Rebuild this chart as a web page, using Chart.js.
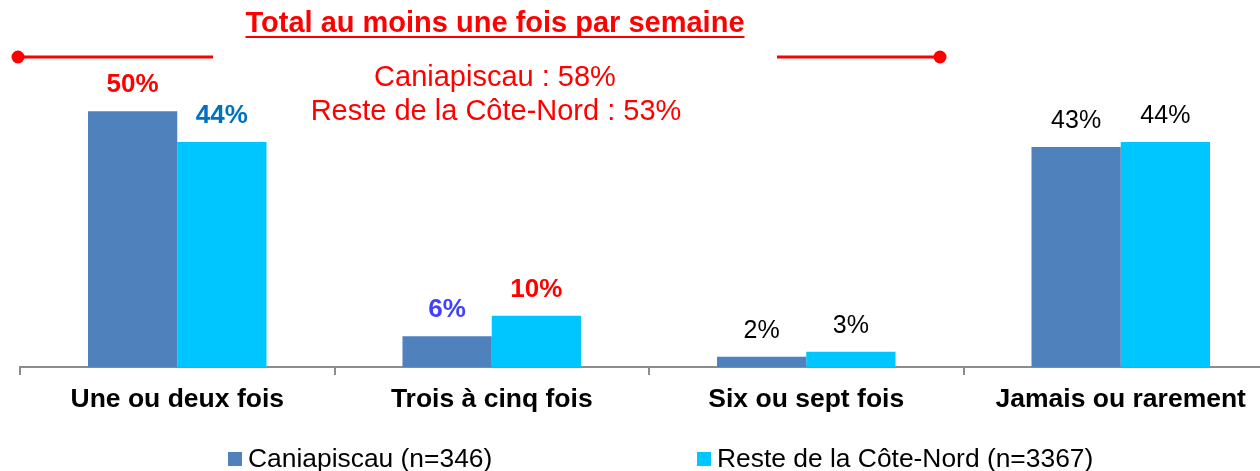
<!DOCTYPE html>
<html lang="fr">
<head>
<meta charset="utf-8">
<title>Total au moins une fois par semaine</title>
<script src="https://cdn.jsdelivr.net/npm/chart.js@4/dist/chart.umd.min.js"></script>
<style>
  html, body { margin: 0; padding: 0; background: #fff; overflow: hidden; }
  #wrap { position: relative; width: 1290px; height: 471px; }
</style>
</head>
<body>
<div id="wrap"><canvas id="chart" width="1290" height="471"></canvas></div>
<script>
const categories = ['Une ou deux fois', 'Trois à cinq fois', 'Six ou sept fois', 'Jamais ou rarement'];
const seriesNames = ['Caniapiscau (n=346)', 'Reste de la Côte-Nord (n=3367)'];
const caniapiscau = [50, 6, 2, 43];
const resteCoteNord = [44, 10, 3, 44];
const calloutTitle = 'Total au moins une fois par semaine';
const totals = ['Caniapiscau : 58%', 'Reste de la Côte-Nord : 53%'];

const FONT = '"Liberation Sans", Arial, sans-serif';
const seriesColors = ['#4F81BD', '#00C6FF'];
// highlighted labels per bar; null means plain black text
const labelStyles = [
  [{ color: '#FF0000' }, { color: '#4040FF' }, null, null],
  [{ color: '#0070C0' }, { color: '#FF0000' }, null, null],
];

const valueLabels = {
  id: 'valueLabels',
  afterDatasetsDraw(chart) {
    const ctx = chart.ctx;
    ctx.save();
    ctx.textAlign = 'center';
    ctx.textBaseline = 'middle';
    chart.data.datasets.forEach((ds, i) => {
      chart.getDatasetMeta(i).data.forEach((bar, j) => {
        const style = labelStyles[i][j];
        ctx.fillStyle = style ? style.color : '#000';
        ctx.font = style ? `bold 26px ${FONT}` : `25px ${FONT}`;
        ctx.fillText(`${ds.data[j]}%`, bar.x, bar.y - 26);
      });
    });
    ctx.restore();
  },
};

// red bracket with the weekly totals above the first category
const callout = {
  id: 'callout',
  afterDraw(chart) {
    const ctx = chart.ctx;
    ctx.save();
    ctx.strokeStyle = '#FF0000';
    ctx.fillStyle = '#FF0000';
    ctx.lineWidth = 3;
    [[18, 213], [777, 940]].forEach(([a, b]) => {
      ctx.beginPath();
      ctx.moveTo(a, 57);
      ctx.lineTo(b, 57);
      ctx.stroke();
    });
    [18, 940].forEach((x) => {
      ctx.beginPath();
      ctx.arc(x, 57, 6.5, 0, Math.PI * 2);
      ctx.fill();
    });

    ctx.textAlign = 'center';
    ctx.textBaseline = 'alphabetic';
    ctx.font = `bold 29px ${FONT}`;
    ctx.fillText(calloutTitle, 495, 32);
    const w = ctx.measureText(calloutTitle).width;
    ctx.lineWidth = 2;
    ctx.beginPath();
    ctx.moveTo(495 - w / 2, 37);
    ctx.lineTo(495 + w / 2, 37);
    ctx.stroke();

    ctx.font = `29px ${FONT}`;
    ctx.fillText(totals[0], 495, 86);
    ctx.fillText(totals[1], 496, 120);
    ctx.restore();
  },
};

const legendRow = {
  id: 'legendRow',
  afterDraw(chart) {
    const ctx = chart.ctx;
    ctx.save();
    ctx.font = `26.4px ${FONT}`;
    ctx.textBaseline = 'alphabetic';
    ctx.textAlign = 'left';
    [228, 697].forEach((x, i) => {
      ctx.fillStyle = seriesColors[i];
      ctx.fillRect(x, 452, 14, 14);
      ctx.fillStyle = '#000';
      ctx.fillText(seriesNames[i], x + 20, 467);
    });
    ctx.restore();
  },
};

new Chart(document.getElementById('chart'), {
  type: 'bar',
  data: {
    labels: categories,
    datasets: [
      { label: seriesNames[0], data: caniapiscau, backgroundColor: seriesColors[0] },
      { label: seriesNames[1], data: resteCoteNord, backgroundColor: seriesColors[1] },
    ],
  },
  options: {
    responsive: false,
    animation: false,
    layout: { padding: { left: 20, right: 12, top: 9, bottom: 0 } },
    datasets: { bar: { categoryPercentage: 0.5676, barPercentage: 1 } },
    plugins: { legend: { display: false }, tooltip: { enabled: false } },
    scales: {
      x: {
        grid: {
          display: true,
          drawOnChartArea: false,
          drawTicks: true,
          tickLength: 8,
          color: '#8C8C8C',
          lineWidth: 2,
          offset: true,
        },
        border: { color: '#8C8C8C', width: 2 },
        ticks: {
          color: '#000',
          font: { family: FONT, size: 26.5, weight: 'bold' },
          padding: 9,
          maxRotation: 0,
          autoSkip: false,
        },
        afterFit: (scale) => { scale.height = 104; },
      },
      y: { display: false, min: 0, max: 70 },
    },
  },
  plugins: [valueLabels, callout, legendRow],
});
</script>
</body>
</html>
